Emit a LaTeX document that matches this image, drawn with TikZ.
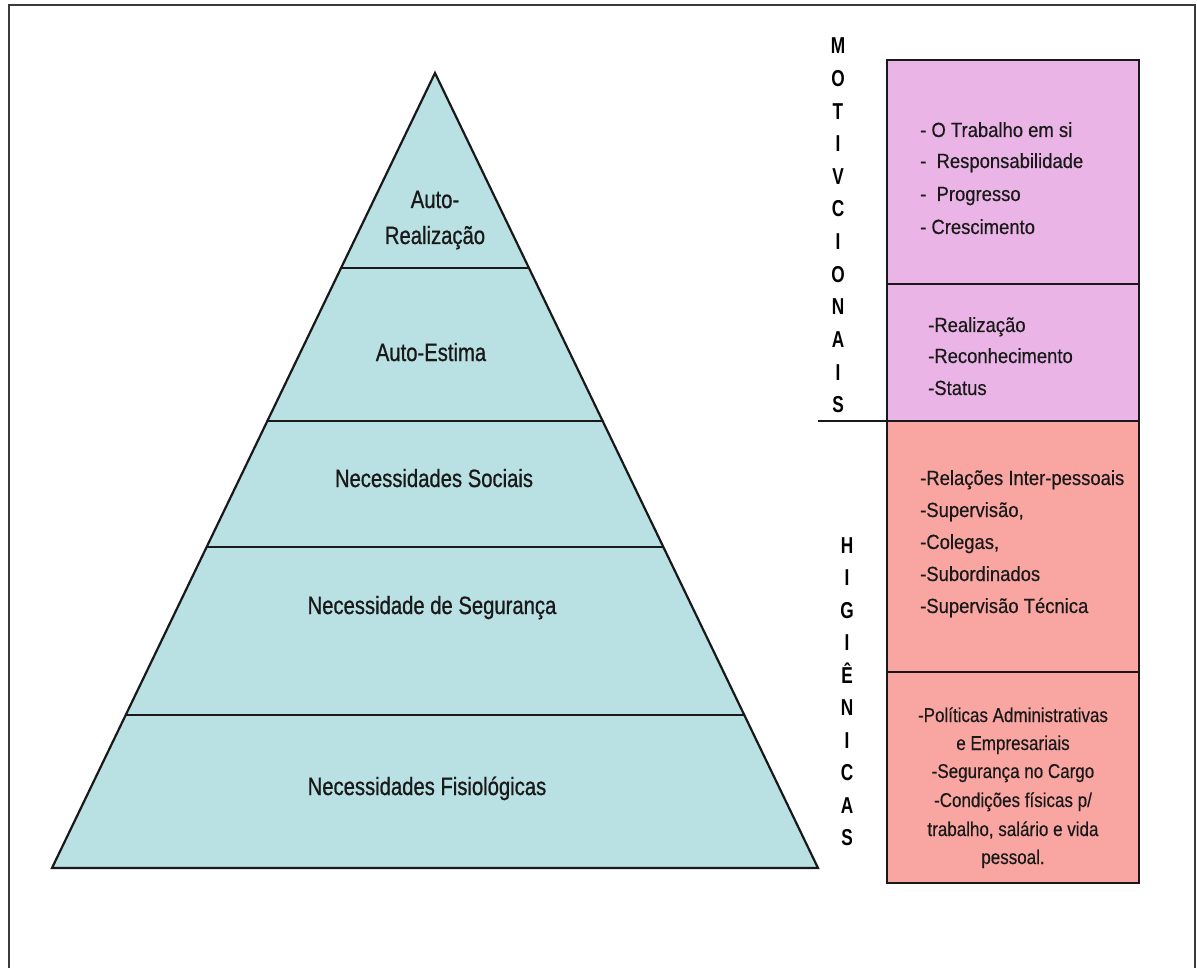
\documentclass[tikz,border=0pt]{standalone}
\usepackage{fontspec}
\setmainfont{Liberation Sans}
\newfontfamily\pyrfont[FakeStretch=0.81,FakeBold=0.8]{Liberation Sans}
\newfontfamily\boxfont[FakeStretch=0.9,FakeBold=0.4]{Liberation Sans}
\newfontfamily\lastfont[FakeStretch=0.85,FakeBold=0.4]{Liberation Sans}
\newfontfamily\vfont[FakeStretch=0.75]{Liberation Sans}
\usetikzlibrary{calc}
\definecolor{pyrc}{HTML}{B9E0E3}
\definecolor{pinkc}{HTML}{EAB4E6}
\definecolor{redc}{HTML}{F9A6A2}
\definecolor{framec}{HTML}{3A3A3A}
\tikzset{
  edge/.style={line width=2.2pt, draw=black!90},
  pyrtext/.style={font=\pyrfont\fontsize{25}{30}\selectfont, anchor=base, inner sep=0pt, text=black!90},
  boxtext/.style={font=\boxfont\fontsize{20.5}{24}\selectfont, anchor=base west, inner sep=0pt, text=black!90},
  lasttext/.style={font=\lastfont\fontsize{20}{24}\selectfont, anchor=base, inner sep=0pt, text=black!90},
  vletter/.style={font=\vfont\bfseries\fontsize{23}{26}\selectfont, anchor=base, inner sep=0pt},
  panel/.style={edge, inner sep=0pt, outer sep=0pt, minimum width=252pt}
}
\begin{document}
\begin{tikzpicture}[x=1pt,y=-1pt]
\useasboundingbox (0,0) rectangle (1197,968);
% frame
\draw[framec, line width=2.4pt] (9,968) -- (9,5) -- (1195,5) -- (1195,968);

% pyramid
\coordinate (apex) at (435,73);
\coordinate (bl) at (52,868);
\coordinate (br) at (818,868);
\filldraw[edge, fill=pyrc, line join=miter] (apex) -- (bl) -- (br) -- cycle;
\foreach \t/\n in {0.2453/a,0.4377/b,0.5962/c,0.8075/d}{
  \coordinate (l\n) at ($(apex)!\t!(bl)$);
  \coordinate (r\n) at ($(apex)!\t!(br)$);
  \draw[edge] (l\n) -- (r\n);
}
\node[pyrtext] (p1a) at (435,208) {Auto-};
\node[pyrtext] (p1b) at (435,244) {Realização};
\node[pyrtext] (p2) at (431,361) {Auto-Estima};
\node[pyrtext] (p3) at (434,487) {Necessidades Sociais};
\node[pyrtext] (p4) at (432,614) {Necessidade de Segurança};
\node[pyrtext] (p5) at (427,795) {Necessidades Fisiológicas};

% right panels
\node[panel, fill=pinkc, minimum height=224pt] (b1) at (1013,172) {};
\node[panel, fill=pinkc, minimum height=137pt] (b2) at (1013,352.5) {};
\node[panel, fill=redc, minimum height=251pt] (b3) at (1013,546.5) {};
\node[panel, fill=redc, minimum height=211pt] (b4) at (1013,777.5) {};
\coordinate (ul) at (818,421);
\draw[edge] (ul) -- (b2.south west);

% panel texts
\node[boxtext] (t11) at (920,137) {- O Trabalho em si};
\node[boxtext] (t12) at (920,168) {-\ \ Responsabilidade};
\node[boxtext] (t13) at (920,201) {-\ \ Progresso};
\node[boxtext] (t14) at (920,234) {- Crescimento};

\node[boxtext] (t21) at (928,332) {-Realização};
\node[boxtext] (t22) at (928,363) {-Reconhecimento};
\node[boxtext] (t23) at (928,395) {-Status};

\node[boxtext] (t31) at (920,485) {-Relações Inter-pessoais};
\node[boxtext] (t32) at (920,517) {-Supervisão,};
\node[boxtext] (t33) at (920,549) {-Colegas,};
\node[boxtext] (t34) at (920,581) {-Subordinados};
\node[boxtext] (t35) at (920,613) {-Supervisão Técnica};

\node[lasttext] (t41) at (1013,722) {-Políticas Administrativas};
\node[lasttext] (t42) at (1013,750) {e Empresariais};
\node[lasttext] (t43) at (1013,778) {-Segurança no Cargo};
\node[lasttext] (t44) at (1013,807) {-Condições físicas p/};
\node[lasttext] (t45) at (1013,836) {trabalho, salário e vida};
\node[lasttext] (t46) at (1013,864) {pessoal.};

% vertical labels
\foreach \l [count=\i] in {M,O,T,I,V,C,I,O,N,A,I,S}{
  \node[vletter] (m\i) at (838,{54+32.6*(\i-1)}) {\l};
}
\foreach \l [count=\i] in {H,I,G,I,Ê,N,I,C,A,S}{
  \node[vletter] (h\i) at (847,{553+32.5*(\i-1)}) {\l};
}
\end{tikzpicture}
\end{document}
